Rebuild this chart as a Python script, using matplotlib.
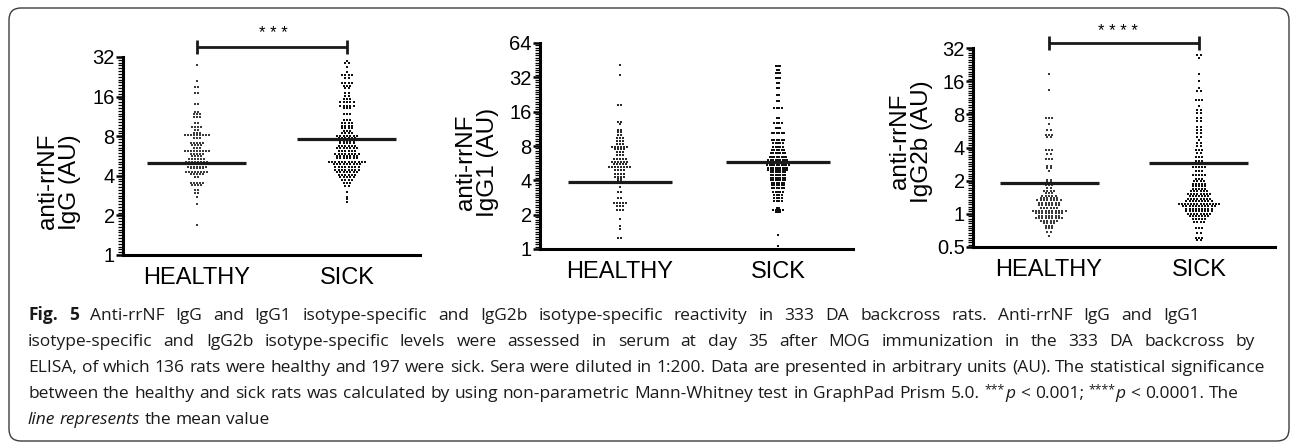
import matplotlib
matplotlib.use("Agg")
import matplotlib.pyplot as plt
import matplotlib.transforms as mtransforms
from matplotlib.patches import FancyBboxPatch
from matplotlib.ticker import FixedLocator, NullFormatter
import numpy as np

plt.rcParams['font.family'] = ['Liberation Sans', 'DejaVu Sans']

W, H = 1292, 443

groups = ['HEALTHY', 'SICK']

# Datos: (valor en AU, número de ratas en esa fila del gráfico de puntos)
igg_healthy = [(27.8, 1), (21.2, 1), (18.9, 2), (17.1, 2), (14.0, 2), (12.3, 2), (11.7, 3), (11.2, 3),
               (10.0, 2), (9.45, 4), (8.9, 2), (8.4, 3), (8.1, 9), (7.7, 3), (7.1, 5), (6.8, 4),
               (6.5, 3), (6.2, 9), (5.9, 5), (5.7, 4), (5.35, 6), (5.1, 8), (4.9, 10), (4.7, 7),
               (4.55, 5), (4.26, 8), (4.1, 5), (3.9, 2), (3.55, 5), (3.4, 4), (3.1, 2), (2.95, 2),
               (2.78, 1), (2.45, 1), (1.69, 1)]
igg_sick = [(29.8, 1), (28.7, 2), (27.0, 1), (24.8, 1), (23.4, 4), (22.0, 2), (20.2, 4), (19.3, 3),
            (18.5, 2), (16.9, 2), (16.2, 2), (15.3, 3), (14.5, 5), (13.6, 5), (13.0, 3), (11.9, 3),
            (10.6, 3), (10.0, 4), (9.6, 4), (9.2, 4), (8.8, 3), (8.4, 4), (8.0, 7), (7.7, 6),
            (7.35, 5), (7.06, 5), (6.75, 6), (6.47, 7), (6.18, 6), (5.9, 8), (5.66, 7), (5.43, 7),
            (5.12, 12), (4.89, 9), (4.64, 8), (4.43, 8), (4.25, 7), (4.06, 6), (3.9, 5), (3.71, 4),
            (3.51, 3), (3.35, 2), (3.03, 1), (2.78, 1), (2.65, 1), (2.54, 1)]

igg1_healthy = [(41, 1), (33.6, 1), (18.4, 2), (13.1, 2), (12.5, 1), (11.1, 2), (10.6, 2), (10.0, 2),
                (9.35, 3), (8.9, 3), (8.3, 3), (7.9, 6), (7.5, 4), (7.05, 3), (6.7, 3), (6.17, 5),
                (5.84, 6), (5.54, 5), (5.21, 8), (4.93, 4), (4.52, 4), (4.31, 4), (4.09, 2), (3.95, 2),
                (3.52, 1), (3.14, 2), (2.82, 2), (2.52, 5), (2.40, 3), (2.2, 3), (1.83, 1), (1.60, 1),
                (1.50, 1), (1.24, 2)]
igg1_sick = [(40, 3), (37, 2), (35, 3), (31.5, 3), (28.5, 2), (25.8, 2), (22.5, 2), (19.9, 2),
             (17.2, 4), (14.0, 2), (12.7, 4), (11.5, 3), (10.4, 6), (9.1, 6), (8.5, 5), (7.9, 5),
             (7.4, 6), (6.9, 7), (6.45, 8), (6.04, 9), (5.77, 10), (5.46, 10), (5.17, 9), (4.93, 9),
             (4.71, 7), (4.46, 7), (4.22, 7), (4.03, 7), (3.82, 6), (3.65, 6), (3.41, 6), (3.18, 5),
             (2.98, 4), (2.79, 4), (2.64, 4), (2.30, 2), (2.2, 5), (2.12, 3), (1.33, 1), (1.07, 1)]

igg2b_healthy = [(18.4, 1), (13.3, 1), (7.35, 3), (6.6, 1), (5.75, 2), (5.2, 3), (4.93, 2), (3.78, 3),
                 (3.46, 2), (3.12, 3), (2.73, 2), (2.59, 2), (2.44, 1), (2.03, 2), (1.93, 2), (1.82, 3),
                 (1.70, 2), (1.61, 4), (1.53, 3), (1.45, 5), (1.38, 6), (1.33, 8), (1.26, 7), (1.20, 7),
                 (1.14, 6), (1.07, 11), (1.01, 9), (0.96, 7), (0.91, 9), (0.86, 6), (0.82, 4), (0.77, 3),
                 (0.74, 3), (0.69, 2), (0.63, 1)]
igg2b_sick = [(27.7, 2), (26.2, 1), (18.5, 1), (15.9, 1), (13.8, 1), (12.9, 2), (10.8, 3), (9.6, 1),
              (8.8, 2), (8.2, 2), (7.4, 2), (6.9, 2), (6.2, 2), (5.8, 2), (5.4, 2), (5.0, 2), (4.7, 1),
              (4.4, 2), (4.1, 2), (3.8, 3), (3.56, 2), (3.25, 3), (3.03, 3), (2.88, 3), (2.64, 5),
              (2.46, 3), (2.26, 5), (2.08, 3), (1.97, 4), (1.86, 5), (1.78, 5), (1.68, 5), (1.60, 6),
              (1.52, 8), (1.44, 7), (1.37, 8), (1.30, 9), (1.23, 14), (1.17, 11), (1.10, 9), (1.05, 9),
              (0.99, 8), (0.95, 7), (0.90, 5), (0.85, 4), (0.75, 3), (0.67, 2), (0.60, 3), (0.58, 2)]

# Medias (línea horizontal)
igg_means = [5.0, 7.6]
igg1_means = [3.9, 5.8]
igg2b_means = [1.9, 2.9]

igg_stars = '* * *'
igg2b_stars = '* * * *'

fig = plt.figure(figsize=(W / 100, H / 100), dpi=100)
fig.patch.set_facecolor('white')


def px_axes(left, top, right, bottom):
    return fig.add_axes([left / W, 1 - bottom / H, (right - left) / W, (bottom - top) / H])


def swarm(ax, x, rows, dx, size, color):
    xs, ys = [], []
    for v, n in rows:
        for i in range(n):
            xs.append(x + (i - (n - 1) / 2) * dx)
            ys.append(v)
    ax.scatter(xs, ys, s=size, marker='s', color=color, linewidths=0, zorder=3)


def style_panel(ax, ylo, yhi, xlim, ylabel, label_xy):
    ax.set_yscale('log', base=2)
    ax.set_ylim(ylo, yhi)
    ax.set_xlim(*xlim)
    k0, k1 = int(round(np.log2(ylo))), int(round(np.log2(yhi)))
    major = [2.0 ** k for k in range(k0, k1 + 1)]
    ax.yaxis.set_major_locator(FixedLocator(major))
    ax.set_yticklabels([f'{m:g}' for m in major])
    minor = [2.0 ** (k + i / 14) for k in range(k0, k1) for i in range(1, 14)]
    ax.yaxis.set_minor_locator(FixedLocator(minor))
    ax.yaxis.set_minor_formatter(NullFormatter())
    ax.set_xticks([1, 2])
    ax.set_xticklabels(groups, fontsize=17)
    ax.tick_params(axis='x', length=0, pad=9)
    ax.tick_params(axis='y', which='major', length=5, width=1.8, pad=1, labelsize=14.5)
    ax.tick_params(axis='y', which='minor', length=3.5, width=0.9)
    for s in ['top', 'right']:
        ax.spines[s].set_visible(False)
    for s in ['left', 'bottom']:
        ax.spines[s].set_linewidth(2.2)
    ax.text(label_xy[0], label_xy[1], ylabel, transform=ax.transAxes, rotation=90,
            ha='center', va='center', fontsize=17.5, linespacing=1.0)


def mean_lines(ax, means):
    ax.hlines(means, [0.67, 1.67], [1.33, 2.33], color='#1a1a1a', lw=2.3, zorder=4)


def bracket(ax, yb, ystar, stars, xstar):
    tr = mtransforms.blended_transform_factory(ax.transData, ax.transAxes)
    kw = dict(color='#1a1a1a', lw=2.0, transform=tr, clip_on=False, solid_capstyle='butt')
    ax.plot([1, 2], [yb, yb], **kw)
    ax.plot([1, 1], [yb - 0.035, yb + 0.035], **kw)
    ax.plot([2, 2], [yb - 0.035, yb + 0.035], **kw)
    ax.text(xstar, ystar, stars, transform=tr, ha='center', va='center', fontsize=12)


# ~~~ Panel IgG ~~~
ax1 = px_axes(123, 57, 420, 255)
style_panel(ax1, 1, 32, (0.507, 2.487), 'anti-rrNF\nIgG (AU)', (-0.215, 0.37))
swarm(ax1, 1, igg_healthy, 0.02, 1.7, '#3a3a3a')
swarm(ax1, 2, igg_sick, 0.022, 2.8, '#111111')
mean_lines(ax1, igg_means)
bracket(ax1, 1.05, 1.12, igg_stars, 1.51)

# ~~~ Panel IgG1 ~~~
ax2 = px_axes(540, 43, 853, 249)
style_panel(ax2, 1, 64, (0.494, 2.475), 'anti-rrNF\nIgG1 (AU)', (-0.2, 0.42))
swarm(ax2, 1, igg1_healthy, 0.019, 2.0, '#2a2a2a')
swarm(ax2, 2, igg1_sick, 0.015, 3.8, '#111111')
mean_lines(ax2, igg1_means)

# ~~~ Panel IgG2b ~~~
ax3 = px_axes(973, 48, 1275, 247)
style_panel(ax3, 0.5, 32, (0.493, 2.507), 'anti-rrNF\nIgG2b (AU)', (-0.205, 0.53))
swarm(ax3, 1, igg2b_healthy, 0.022, 1.7, '#3a3a3a')
swarm(ax3, 2, igg2b_sick, 0.021, 2.8, '#111111')
mean_lines(ax3, igg2b_means)
bracket(ax3, 1.025, 1.085, igg2b_stars, 1.46)

# ~~~ Marco redondeado ~~~
frame = FancyBboxPatch((0.09, 0.02), 12.80, 4.33, boxstyle='round,pad=0,rounding_size=0.12',
                       transform=fig.dpi_scale_trans, facecolor='none', edgecolor='#3c3c3c', lw=1.0)
fig.patches.append(frame)

# ~~~ Leyenda de la figura (texto justificado) ~~~
caption = [
    [("Fig. 5", 'b'), (" Anti-rrNF IgG and IgG1 isotype-specific and IgG2b isotype-specific reactivity in 333 DA backcross rats. Anti-rrNF IgG and IgG1", 'n')],
    [("isotype-specific and IgG2b isotype-specific levels were assessed in serum at day 35 after MOG immunization in the 333 DA backcross by", 'n')],
    [("ELISA, of which 136 rats were healthy and 197 were sick. Sera were diluted in 1:200. Data are presented in arbitrary units (AU). The statistical significance", 'n')],
    [("between the healthy and sick rats was calculated by using non-parametric Mann-Whitney test in GraphPad Prism 5.0. ", 'n'),
     ("***", 's'), ("p", 'i'), (" < 0.001; ", 'n'), ("****", 's'), ("p", 'i'), (" < 0.0001. The", 'n')],
    [("line represents", 'i'), (" the mean value", 'n')],
]
caption_right = [1200, 1255, 1265, 1239, None]
caption_base = [320, 346, 372, 398, 424]
cap_font = ['Open Sans', 'DejaVu Sans']
x_left = 28

renderer = fig.canvas.get_renderer()


def width_of(t):
    return t.get_window_extent(renderer).width


# tamaño de letra ajustado para que la tercera línea (sin estirar) ocupe su ancho
probe = fig.text(0, 0, caption[2][0][0], family=cap_font, fontsize=10)
cap_fs = 10 * (caption_right[2] - x_left) / width_of(probe)
probe.remove()

styles = {
    'n': dict(fontsize=cap_fs),
    'b': dict(fontsize=cap_fs, fontweight='bold'),
    'i': dict(fontsize=cap_fs, fontstyle='italic'),
    's': dict(fontsize=cap_fs * 0.7),
}


def split_words(segments):
    words = [[]]
    for text, st in segments:
        parts = text.split(' ')
        for k, part in enumerate(parts):
            if k > 0:
                words.append([])
            if part:
                words[-1].append((part, st))
    return [w for w in words if w]


p1 = fig.text(0, 0, 'n n', family=cap_font, **styles['n'])
p2 = fig.text(0, 0, 'nn', family=cap_font, **styles['n'])
space = width_of(p1) - width_of(p2)
p1.remove()
p2.remove()

for segments, x_right, base in zip(caption, caption_right, caption_base):
    words = split_words(segments)
    placed, widths = [], []
    for word in words:
        pieces, w = [], 0.0
        for piece, st in word:
            t = fig.text(0, 0, piece, family=cap_font, ha='left', va='baseline',
                         color='#1a1a1a', **styles[st])
            pieces.append((t, w, st))
            w += width_of(t)
        placed.append(pieces)
        widths.append(w)
    if x_right is None or len(words) < 2:
        gap = space
    else:
        gap = max((x_right - x_left - sum(widths)) / (len(words) - 1), 0.5 * space)
    x = x_left
    for pieces, w in zip(placed, widths):
        for t, off, st in pieces:
            dy = 5 if st == 's' else 0
            t.set_position(((x + off) / W, 1 - (base - dy) / H))
        x += w + gap

plt.savefig('out.png', dpi=100)
